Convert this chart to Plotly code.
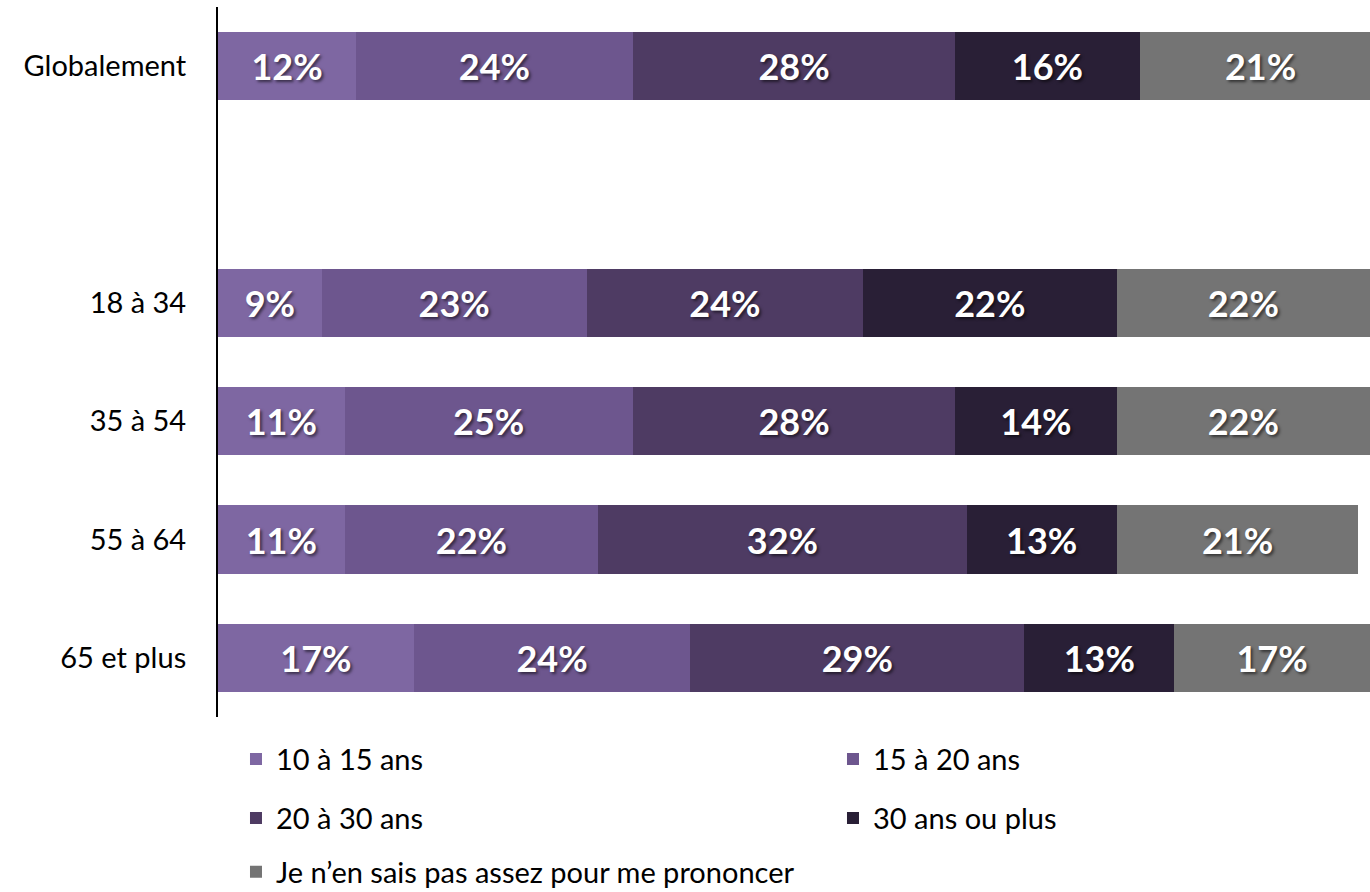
import plotly.graph_objects as go

# Rows of the chart, top to bottom (the blank row separates the overall bar from the age groups)
categories = ["Globalement", " ", "18 à 34", "35 à 54", "55 à 64", "65 et plus"]

series_names = ["10 à 15 ans", "15 à 20 ans", "20 à 30 ans", "30 ans ou plus",
                "Je n’en sais pas assez pour me prononcer"]

# Percentages per series, aligned with categories (None for the blank row)
v_10_15 = [12, None, 9, 11, 11, 17]
v_15_20 = [24, None, 23, 25, 22, 24]
v_20_30 = [28, None, 24, 28, 32, 29]
v_30_plus = [16, None, 22, 14, 13, 13]
v_nsp = [21, None, 22, 22, 21, 17]

series_values = [v_10_15, v_15_20, v_20_30, v_30_plus, v_nsp]
colors = ["#7E67A2", "#6D568E", "#4E3B63", "#291F36", "#747474"]
legend_ids = ["legend", "legend", "legend2", "legend2", "legend3"]

FONT = "Lato, 'Open Sans', sans-serif"

fig = go.Figure()
for name, vals, col, lg in zip(series_names, series_values, colors, legend_ids):
    fig.add_trace(go.Bar(
        y=categories,
        x=vals,
        name=name,
        orientation="h",
        width=0.575,
        marker=dict(color=col, line=dict(width=0)),
        text=[f"{v}%" if v is not None else "" for v in vals],
        textposition="inside",
        insidetextanchor="middle",
        textangle=0,
        textfont=dict(family=FONT, size=36, color="white", weight="bold",
                      shadow="2px 2px 3px rgba(0,0,0,0.55)"),
        legend=lg,
        hoverinfo="skip",
    ))

# Three one-row legends laid out in two columns under the plot
legend_common = dict(
    orientation="h",
    traceorder="normal",
    xanchor="left",
    yanchor="middle",
    x=-0.00001,
    indentation=18,
    entrywidth=534,
    font=dict(family=FONT, size=29, color="#000000"),
    bgcolor="rgba(0,0,0,0)",
)

fig.update_layout(
    barmode="stack",
    width=1370,
    height=892,
    margin=dict(l=218, r=0, t=7, b=175, autoexpand=False),
    plot_bgcolor="white",
    paper_bgcolor="white",
    showlegend=True,
    legend=dict(legend_common, y=-0.0592),
    legend2=dict(legend_common, y=-0.1423),
    legend3=dict(legend_common, y=-0.2183),
    xaxis=dict(range=[0, 100], visible=False, fixedrange=True),
    yaxis=dict(
        type="category",
        categoryorder="array",
        categoryarray=categories,
        range=[5.5, -0.5],
        showline=True,
        linecolor="#000000",
        linewidth=2,
        showgrid=False,
        ticks="",
        ticklabelstandoff=24,
        tickfont=dict(family=FONT, size=29, color="#000000"),
    ),
    uniformtext=dict(minsize=30, mode="show"),
)

fig.write_html("out.html")
